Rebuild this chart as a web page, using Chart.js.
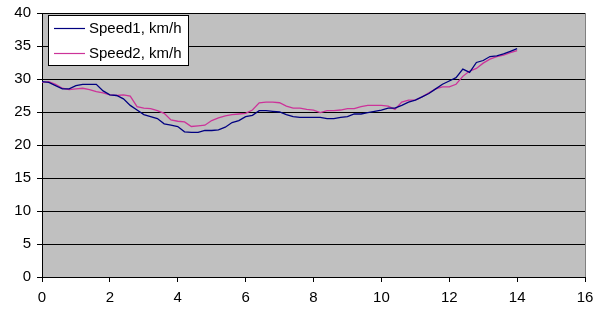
<!DOCTYPE html>
<html>
<head>
<meta charset="utf-8">
<script src="https://cdn.jsdelivr.net/npm/chart.js@4"></script>
<style>
  html, body { margin: 0; padding: 0; background: #fff; }
  #wrap { width: 595px; height: 313px; }
</style>
</head>
<body>
<div id="wrap"><canvas id="chart"></canvas></div>
<script>
// time points (x axis)
const xs = [0, 0.2, 0.4, 0.6, 0.8, 1, 1.2, 1.4, 1.6, 1.8, 2, 2.2, 2.4, 2.6, 2.8, 3, 3.2, 3.4, 3.6, 3.8,
  4, 4.2, 4.4, 4.6, 4.8, 5, 5.2, 5.4, 5.6, 5.8, 6, 6.2, 6.4, 6.6, 6.8, 7, 7.2, 7.4, 7.6, 7.8,
  8, 8.2, 8.4, 8.6, 8.8, 9, 9.2, 9.4, 9.6, 9.8, 10, 10.2, 10.4, 10.6, 10.8, 11, 11.2, 11.4, 11.6, 11.8,
  12, 12.2, 12.4, 12.6, 12.8, 13, 13.2, 13.4, 13.6, 13.8, 14];

const speed1 = [29.6, 29.5, 29, 28.5, 28.5, 29, 29.2, 29.2, 29.2, 28.2, 27.6, 27.5, 27, 26, 25.3, 24.6, 24.3, 24, 23.2, 23,
  22.8, 22, 21.9, 21.9, 22.2, 22.2, 22.3, 22.7, 23.4, 23.7, 24.3, 24.5, 25.2, 25.2, 25.1, 25, 24.6, 24.3, 24.2, 24.2,
  24.2, 24.2, 24, 24, 24.2, 24.3, 24.7, 24.7, 24.9, 25.1, 25.3, 25.6, 25.6, 26, 26.5, 26.8, 27.3, 27.8, 28.5, 29.2,
  29.7, 30.2, 31.5, 31, 32.5, 32.8, 33.4, 33.5, 33.8, 34.2, 34.6];

const speed2 = [29.5, 29.6, 29.2, 28.6, 28.4, 28.5, 28.6, 28.4, 28.1, 27.9, 27.6, 27.5, 27.6, 27.4, 25.8, 25.6, 25.5, 25.2, 24.8, 23.8,
  23.6, 23.5, 22.8, 22.9, 23, 23.7, 24.1, 24.4, 24.6, 24.7, 24.8, 25.3, 26.4, 26.5, 26.5, 26.4, 25.9, 25.6, 25.6, 25.4,
  25.3, 24.9, 25.2, 25.2, 25.3, 25.5, 25.5, 25.8, 26, 26, 26, 25.9, 25.4, 26.5, 26.8, 26.8, 27.3, 27.9, 28.5, 28.8,
  28.8, 29.2, 30.4, 31.2, 31.6, 32.4, 33, 33.4, 33.6, 34, 34.3];

const seriesNames = ["Speed1, km/h", "Speed2, km/h"];
const seriesColors = ["#000080", "#cc3399"];

const FONT = "'Liberation Sans', Arial, sans-serif";
const toPoints = (vals) => vals.map((v, i) => ({ x: xs[i], y: v }));

// gray plot area + right edge
const plotBg = {
  id: "plotBg",
  beforeDraw(chart) {
    const { ctx, chartArea: a } = chart;
    ctx.save();
    ctx.fillStyle = "#c0c0c0";
    ctx.fillRect(a.left, a.top, a.right - a.left, a.bottom - a.top);
    ctx.strokeStyle = "#808080";
    ctx.lineWidth = 1;
    ctx.beginPath();
    ctx.moveTo(a.right + 0.5, a.top);
    ctx.lineTo(a.right + 0.5, a.bottom);
    ctx.stroke();
    ctx.restore();
  },
};

// boxed legend in upper left of plot
const boxLegend = {
  id: "boxLegend",
  afterDraw(chart) {
    const { ctx, chartArea: a } = chart;
    const x0 = a.left + 6, y0 = a.top + 2, w = 140, h = 50;
    ctx.save();
    ctx.fillStyle = "#fff";
    ctx.fillRect(x0, y0, w, h);
    ctx.strokeStyle = "#000";
    ctx.lineWidth = 1;
    ctx.strokeRect(x0 + 0.5, y0 + 0.5, w, h);
    ctx.font = "15px " + FONT;
    ctx.textBaseline = "middle";
    chart.data.datasets.forEach((ds, i) => {
      const y = y0 + 13 + i * 25;
      ctx.strokeStyle = ds.borderColor;
      ctx.lineWidth = 1.2;
      ctx.beginPath();
      ctx.moveTo(x0 + 6, y + 0.5);
      ctx.lineTo(x0 + 37, y + 0.5);
      ctx.stroke();
      ctx.fillStyle = "#000";
      ctx.fillText(ds.label, x0 + 41, y + 1);
    });
    ctx.restore();
  },
};

new Chart(document.getElementById("chart"), {
  type: "line",
  data: {
    datasets: seriesNames.map((name, i) => ({
      label: name,
      data: toPoints(i === 0 ? speed1 : speed2),
      borderColor: seriesColors[i],
      backgroundColor: seriesColors[i],
      borderWidth: 1.3,
      pointRadius: 0,
      tension: 0,
      fill: false,
    })),
  },
  options: {
    responsive: true,
    maintainAspectRatio: false,
    animation: false,
    layout: { padding: { top: 13, right: 10, left: 0, bottom: 0 } },
    plugins: { legend: { display: false }, tooltip: { enabled: false } },
    scales: {
      x: {
        type: "linear",
        min: 0,
        max: 16,
        ticks: {
          stepSize: 2,
          color: "#000",
          padding: 7,
          font: { size: 15, family: FONT },
        },
        grid: { display: true, drawOnChartArea: false, drawTicks: true, tickLength: 5, color: "#000" },
        border: { display: true, color: "#000", width: 1 },
        afterFit: (s) => { s.height = 36; s.paddingLeft = 0; s.paddingRight = 0; },
      },
      y: {
        min: 0,
        max: 40,
        ticks: {
          stepSize: 5,
          color: "#000",
          padding: 6,
          font: { size: 15, family: FONT },
        },
        grid: { color: "#000", lineWidth: 1, tickLength: 5, drawTicks: true },
        border: { display: true, color: "#000", width: 1 },
        afterFit: (s) => { s.width = 42; s.paddingTop = 0; s.paddingBottom = 0; },
      },
    },
  },
  plugins: [plotBg, boxLegend],
});
</script>
</body>
</html>
